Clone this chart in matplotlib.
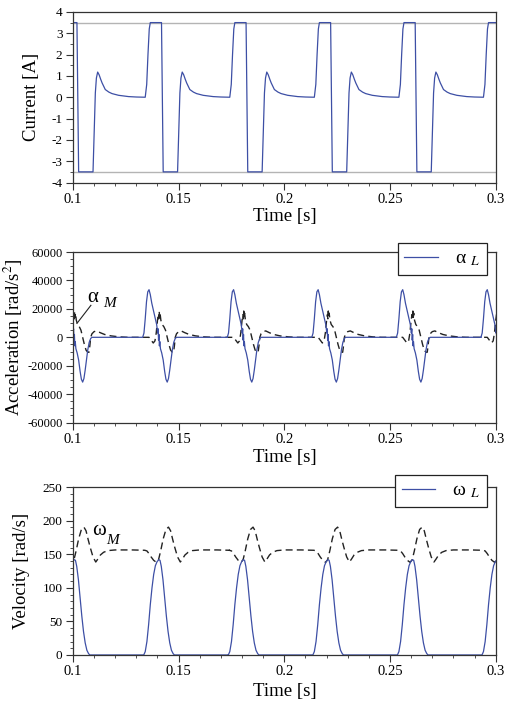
import matplotlib
matplotlib.use("Agg")
import matplotlib.pyplot as plt
from matplotlib.ticker import MultipleLocator

plt.rcParams["font.family"] = ["Liberation Serif", "DejaVu Serif"]
plt.rcParams["mathtext.fontset"] = "stix"
plt.rcParams["axes.unicode_minus"] = False

# one period of each waveform
# (time relative to the start of each cycle [s], value)
cycle_start = [0.10, 0.14, 0.18, 0.22, 0.26, 0.30]

cur_t = [-0.0058, -0.0051, -0.0045, -0.0039, -0.0034, 0.0019, 0.0027, 0.0095,
         0.0101, 0.0106, 0.0111, 0.0117, 0.0124, 0.0131, 0.0138, 0.0153, 0.0170,
         0.0185, 0.0216, 0.0263, 0.0300, 0.0338]
cur_v = [0.0, 0.6, 2.0, 3.2, 3.5, 3.5, -3.5, -3.5,
         -1.5, 0.2, 0.9, 1.18, 1.05, 0.85, 0.67, 0.36, 0.24,
         0.17, 0.09, 0.03, 0.01, 0.0]
cur_limit = [3.5, -3.5]

accL_t = [-0.0070, -0.0064, -0.0058, -0.0052, -0.0046, -0.0040, -0.0034, -0.0027,
          -0.0018, -0.0010, -0.0004, 0.0001, 0.0003, 0.0005, 0.0007, 0.0009,
          0.0011, 0.0014, 0.0020, 0.0027, 0.0034, 0.0040, 0.0046, 0.0052,
          0.0058, 0.0064, 0.0070, 0.0077, 0.0084, 0.0090, 0.0330]
accL_v = [0, 3000, 13000, 25000, 32000, 33500, 30000, 24000,
          18000, 13000, 9000, 3000, 6000, -2000, 2000, -6000,
          -3000, -8000, -11000, -16000, -24000, -29500, -31500, -29000,
          -23000, -16000, -9000, -3500, -800, 0, 0]

accM_t = [-0.0060, -0.0040, -0.0030, -0.0020, -0.0012, -0.0006, 0.0000, 0.0004,
          0.0006, 0.0008, 0.0010, 0.0012, 0.0016, 0.0022, 0.0030, 0.0038,
          0.0046, 0.0054, 0.0062, 0.0070, 0.0076, 0.0080, 0.0084, 0.0090,
          0.0100, 0.0112, 0.0130, 0.0150, 0.0180, 0.0220, 0.0260, 0.0340]
accM_v = [0, 0, -2000, -4000, -2500, 3000, 12000, 16000,
          13000, 18500, 14000, 17000, 12000, 9000, 7500, 5000,
          0, -5000, -9000, -10500, -10500, -6000, 0, 2500,
          4000, 4500, 3200, 2000, 1000, 300, 0, 0]

velL_t = [-0.0065, -0.0058, -0.0050, -0.0042, -0.0034, -0.0026, -0.0018, -0.0010,
          -0.0002, 0.0006, 0.0012, 0.0018, 0.0026, 0.0034, 0.0042, 0.0050,
          0.0058, 0.0066, 0.0074, 0.0080, 0.0335]
velL_v = [0, 5, 20, 45, 75, 100, 120, 133,
          139, 142, 141, 132, 112, 85, 58, 35,
          18, 7, 2, 0, 0]

velM_t = [-0.0060, -0.0050, -0.0040, -0.0030, -0.0018, -0.0005, 0.0005, 0.0015,
          0.0027, 0.0040, 0.0052, 0.0062, 0.0072, 0.0082, 0.0095, 0.0108,
          0.0118, 0.0130, 0.0145, 0.0165, 0.0200, 0.0280, 0.0340]
velM_v = [156, 155, 151, 146, 141, 138, 142, 155,
          173, 187, 190.5, 185, 172, 160, 146, 138.5,
          143, 149, 153, 155.5, 156.5, 156.5, 156]

BLUE = "#3d4fa5"
DASH = "#222222"


def series(rel_t, vals):
    ts, vs = [], []
    for t0 in cycle_start:
        ts += [t0 + t for t in rel_t]
        vs += list(vals)
    return ts, vs


def style_axes(ax, ymajor, yminor):
    ax.set_xlim(0.1, 0.3)
    ax.xaxis.set_major_locator(MultipleLocator(0.05))
    ax.xaxis.set_minor_locator(MultipleLocator(0.01))
    ax.yaxis.set_major_locator(MultipleLocator(ymajor))
    ax.yaxis.set_minor_locator(MultipleLocator(yminor))
    ax.tick_params(which="major", direction="out", length=5, width=0.8,
                   color="#333333", pad=2.5)
    ax.tick_params(which="minor", direction="out", length=2.5, width=0.6,
                   color="#333333")
    ax.tick_params(axis="x", labelsize=10.5)
    ax.tick_params(axis="y", labelsize=9.5)
    ax.set_xticklabels([f"{v:g}" for v in ax.get_xticks()])
    for sp in ax.spines.values():
        sp.set_linewidth(0.9)
        sp.set_color("#333333")
    ax.set_xlabel("Time [s]", fontsize=13.5)


fig = plt.figure(figsize=(5.1, 7.02), dpi=100)

# current
ax1 = fig.add_axes([0.143, 0.740, 0.829, 0.243])
for lim in cur_limit:
    ax1.axhline(lim, color="#b4b4b4", lw=1.0)
t, v = series(cur_t, cur_v)
ax1.plot(t, v, color=BLUE, lw=0.9)
ax1.set_ylim(-4, 4)
style_axes(ax1, 1, 0.5)
ax1.set_ylabel("Current [A]", fontsize=13.5)
ax1.yaxis.set_label_coords(-0.078, 0.5)
ax1.xaxis.set_label_coords(0.5, -0.15)

# acceleration
ax2 = fig.add_axes([0.143, 0.398, 0.829, 0.243])
t, v = series(accM_t, accM_v)
ax2.plot(t, v, color=DASH, lw=1.0, ls=(0, (5, 3)))
t, v = series(accL_t, accL_v)
ax2.plot(t, v, color=BLUE, lw=0.9, label="α $_{L}$")
ax2.set_ylim(-60000, 60000)
style_axes(ax2, 20000, 5000)
ax2.tick_params(axis="y", labelsize=9)
ax2.set_ylabel("Acceleration [rad/s$^{2}$]", fontsize=13.5)
ax2.yaxis.set_label_coords(-0.113, 0.5)
ax2.xaxis.set_label_coords(0.5, -0.155)
ax2.text(0.1093, 28000, "α", fontsize=15, ha="center", va="center")
ax2.text(0.1175, 23500, "M", fontsize=11, style="italic", ha="center", va="center")
ax2.plot([0.1085, 0.1019], [22500, 9800], color="#222222", lw=0.8)
leg = ax2.legend(loc="upper right", bbox_to_anchor=(0.979, 1.053), borderaxespad=0,
                 fontsize=14, handlelength=1.7, handletextpad=0.9, borderpad=0.35,
                 fancybox=False, framealpha=1, edgecolor="#222222")
leg.get_frame().set_linewidth(0.9)

# velocity
ax3 = fig.add_axes([0.143, 0.067, 0.829, 0.239])
t, v = series(velM_t, velM_v)
ax3.plot(t, v, color=DASH, lw=1.0, ls=(0, (5, 3)))
t, v = series(velL_t, velL_v)
ax3.plot(t, v, color=BLUE, lw=0.9, label="ω $_{L}$")
ax3.set_ylim(0, 250)
style_axes(ax3, 50, 10)
ax3.set_ylabel("Velocity [rad/s]", fontsize=13.5)
ax3.yaxis.set_label_coords(-0.102, 0.5)
ax3.xaxis.set_label_coords(0.5, -0.17)
ax3.text(0.1123, 186, "ω", fontsize=15, ha="center", va="center")
ax3.text(0.1189, 171, "M", fontsize=11, style="italic", ha="center", va="center")
leg = ax3.legend(loc="upper right", bbox_to_anchor=(0.979, 1.071), borderaxespad=0,
                 fontsize=14, handlelength=1.7, handletextpad=0.9, borderpad=0.35,
                 fancybox=False, framealpha=1, edgecolor="#222222")
leg.get_frame().set_linewidth(0.9)

fig.savefig("out.png", dpi=100)
